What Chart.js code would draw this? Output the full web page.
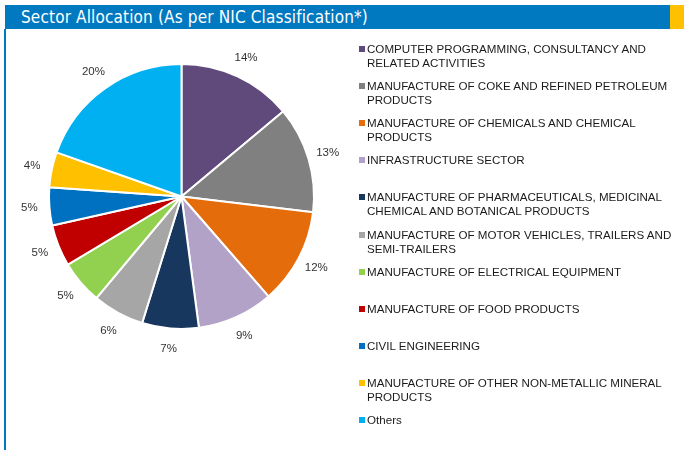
<!DOCTYPE html>
<html lang="en">
<head>
    <meta charset="UTF-8">
    <title>Sector Allocation</title>
    <script src="https://cdn.jsdelivr.net/npm/chart.js"></script>
    <style>
        body { margin: 0; width: 684px; height: 450px; background: #fff; position: relative; overflow: hidden; font-family: "Liberation Sans", Arial, sans-serif; }
        #header { position: absolute; left: 5px; top: 5px; width: 665px; height: 24px; background: #0079C1; }
        #header span { position: absolute; left: 16px; top: 2px; color: #fff; font-family: "Liberation Sans Narrow", "DejaVu Sans Condensed", sans-serif; font-size: 17px; letter-spacing: 0.15px; }
        #corner { position: absolute; left: 670px; top: 5px; width: 14px; height: 24px; background: #FFC000; }
        #leftLine { position: absolute; left: 4px; top: 29px; width: 2px; height: 421px; background: #0079C1; }
        #pieChart { position: absolute; left: 0; top: 0; }
        #legend { position: absolute; left: 359px; top: 42px; width: 325px; }
        .item { position: absolute; left: 0; font-size: 11.6px; line-height: 14px; color: #1a1a1a; padding-left: 8px; white-space: nowrap; }
        .item i { position: absolute; left: 0; top: 4px; width: 6px; height: 6px; }
    </style>
</head>
<body>
    <div id="header"><span>Sector Allocation (As per NIC Classification*)</span></div>
    <div id="corner"></div>
    <div id="leftLine"></div>
    <canvas id="pieChart" width="684" height="450"></canvas>
    <div id="legend"></div>

    <script>
        // sectors, clockwise from 12 o'clock
        const sectors = [
            ['COMPUTER PROGRAMMING, CONSULTANCY AND', 'RELATED ACTIVITIES'],
            ['MANUFACTURE OF COKE AND REFINED PETROLEUM', 'PRODUCTS'],
            ['MANUFACTURE OF CHEMICALS AND CHEMICAL', 'PRODUCTS'],
            ['INFRASTRUCTURE SECTOR'],
            ['MANUFACTURE OF PHARMACEUTICALS, MEDICINAL', 'CHEMICAL AND BOTANICAL PRODUCTS'],
            ['MANUFACTURE OF MOTOR VEHICLES, TRAILERS AND', 'SEMI-TRAILERS'],
            ['MANUFACTURE OF ELECTRICAL EQUIPMENT'],
            ['MANUFACTURE OF FOOD PRODUCTS'],
            ['CIVIL ENGINEERING'],
            ['MANUFACTURE OF OTHER NON-METALLIC MINERAL', 'PRODUCTS'],
            ['Others']
        ];
        const allocation = [13.9, 13.0, 11.7, 9.3, 6.9, 6.3, 5.3, 5.1, 4.6, 4.3, 19.6];
        const sliceColors = ['#604A7B', '#808080', '#E46C0A', '#B3A2C7', '#17375E', '#A6A6A6',
                             '#92D050', '#C00000', '#0070C0', '#FFC000', '#00B0F0'];

        // percentage labels outside the pie
        const outsideLabels = {
            id: 'outsideLabels',
            afterDatasetsDraw(chart) {
                const ctx = chart.ctx;
                const arcs = chart.getDatasetMeta(0).data;
                ctx.save();
                ctx.font = '11.5px "Liberation Sans", Arial, sans-serif';
                ctx.fillStyle = '#333';
                ctx.textAlign = 'center';
                ctx.textBaseline = 'middle';
                arcs.forEach((arc, i) => {
                    const p = arc.getProps(['x', 'y', 'startAngle', 'endAngle', 'outerRadius'], true);
                    const mid = (p.startAngle + p.endAngle) / 2;
                    const r = p.outerRadius + 20;
                    ctx.fillText(Math.round(allocation[i]) + '%', p.x + Math.cos(mid) * r, p.y + Math.sin(mid) * r);
                });
                ctx.restore();
            }
        };

        const ctx = document.getElementById('pieChart').getContext('2d');
        const pieChart = new Chart(ctx, {
            type: 'pie',
            data: {
                labels: sectors.map(s => s.join(' ')),
                datasets: [{
                    data: allocation,
                    backgroundColor: sliceColors,
                    borderColor: '#fff',
                    borderWidth: 2
                }]
            },
            options: {
                responsive: false,
                animation: false,
                layout: { padding: { left: 48, right: 369, top: 63, bottom: 120 } },
                plugins: {
                    legend: { display: false },
                    tooltip: { enabled: false }
                }
            },
            plugins: [outsideLabels]
        });

        // legend built from the same arrays
        const legend = document.getElementById('legend');
        sectors.forEach((lines, i) => {
            const div = document.createElement('div');
            div.className = 'item';
            div.style.top = (i * 37.1) + 'px';
            div.innerHTML = '<i style="background:' + sliceColors[i] + '"></i>' + lines.join('<br>');
            legend.appendChild(div);
        });
    </script>
</body>
</html>
